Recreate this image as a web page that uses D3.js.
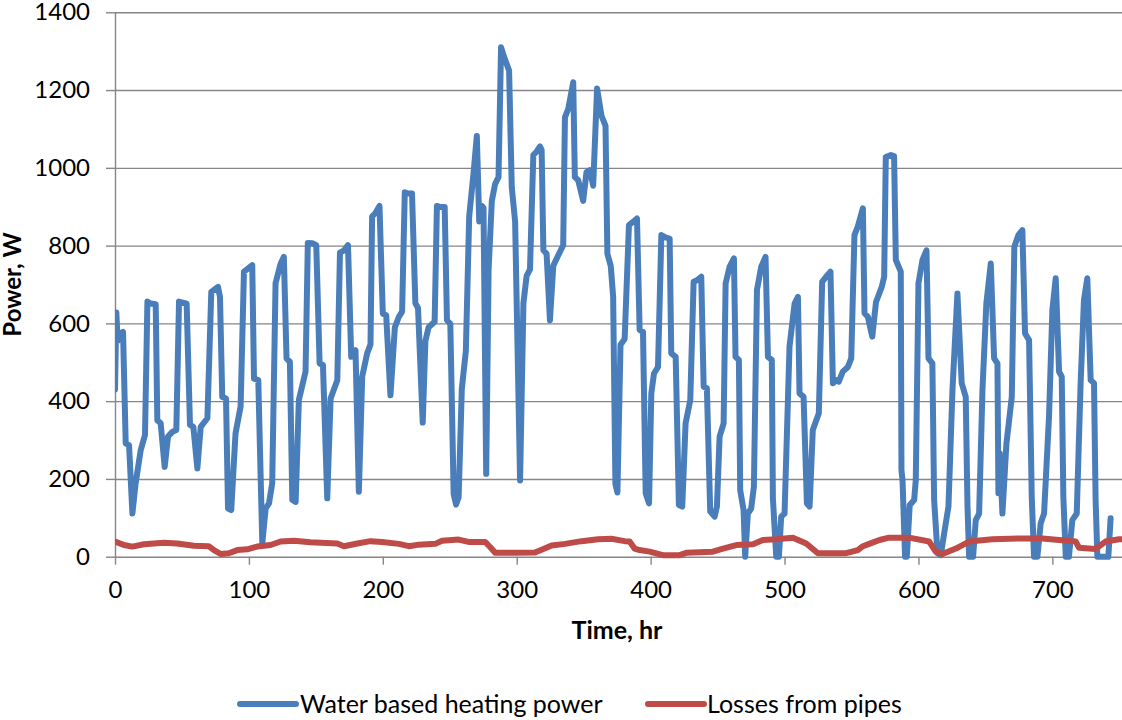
<!DOCTYPE html>
<html>
<head>
<meta charset="utf-8">
<script src="https://cdn.jsdelivr.net/npm/d3@7"></script>
<style>
  body { margin: 0; background: #fff; }
  svg text { font-family: Lato, "Open Sans", "Liberation Sans", sans-serif; fill: #000; }
</style>
</head>
<body>
<svg id="chart" width="1122" height="720"></svg>
<script>
// Hourly heating power (W) — hour stamps and values
const heatHours = [
  0, 1, 2, 3, 6, 8, 10.5, 13, 15.4, 19.2, 22.4, 24.2, 26.6, 30.4, 31.6, 34.1, 37.1, 39.6, 42.8, 45.8,
  47.8, 53.5, 56, 58.5, 61.5, 64, 69, 71.9, 76.9, 78.4, 80.1, 82.9, 84.4, 86.8, 90, 93.8, 96.3, 99.3,
  102.5, 103.8, 107, 110, 112.5, 115, 117.4, 119.9, 123.7, 126.1, 128.1, 130.6, 132.4, 134.9, 137.3,
  142.3, 144, 147.3, 150.3, 152.8, 155.3, 158.5, 161, 166, 168, 171, 174, 176.4, 179.6, 182.1, 184.6,
  188.3, 190.8, 192, 194.5, 197.5, 200, 202.5, 205.7, 209, 212, 214.4, 216.4, 218.9, 221.8, 224.3,
  226.3, 229.8, 231.8, 234.2, 238.7, 240.4, 242.9, 246.2, 247.9, 250.4, 252.9, 254.7, 256.6, 259, 262,
  264.5, 267.7, 270.2, 272, 274, 275.2, 277.2, 279, 281.4, 283.9, 286.4, 288.3, 290.8, 294.3, 296.3,
  298.8, 302.5, 305, 307.4, 309.9, 312.4, 314.9, 317.4, 318.6, 319.9, 322.3, 324.8, 327.3, 331, 334.7,
  336, 338.5, 342.2, 343.4, 345.9, 349.6, 352.1, 354.6, 357.1, 360, 363.3, 366.3, 367.7, 370.2, 372,
  373.7, 375.2, 377.5, 380.6, 383.8, 386.8, 389.8, 391.8, 394.3, 396.3, 398.8, 400.5, 402.5, 405.5,
  408, 411, 414.2, 415.4, 418.7, 421.1, 423.6, 426.1, 429.6, 432.1, 434.6, 437.8, 439.6, 442, 444.5,
  447.8, 449.5, 451.5, 454.5, 456, 459, 462.2, 463.4, 465.9, 466.9, 469.4, 470.6, 472.6, 475.1, 477.1,
  479.4, 482.6, 485.8, 487.6, 490.5, 491.3, 493.8, 495.8, 497.5, 500, 503.7, 507.5, 510, 511.2, 514.2,
  516.7, 518.7, 521.1, 525.6, 528.1, 531.1, 534.3, 536.1, 538.6, 540.5, 543.5, 547.3, 549.8, 552.2,
  554.7, 558.5, 559.7, 562.2, 565.5, 568.3, 572.6, 574.4, 575.6, 579.4, 581.8, 583.1, 586.8, 587.3,
  588.1, 590, 591.3, 593.5, 596.8, 598, 600, 603, 606, 607.5, 610.4, 611.7, 614.2, 616.7, 619.2, 622.4,
  625.4, 629.1, 632.3, 635.3, 636.6, 637.8, 640.8, 642.8, 645.3, 647.8, 650.7, 654, 656.5, 659, 659.7,
  660.7, 662.7, 665.7, 669.7, 671.6, 674.6, 677.6, 679.6, 682.6, 684.6, 686.3, 688.8, 691.3, 693.8,
  697.5, 700, 702.5, 705, 707, 708.2, 710, 712.4, 714.9, 718.2, 721.1, 723.6, 726.1, 728.6, 731.1,
  732.3, 733.6, 741.8, 743.5
];
const heatPower = [
  430, 628, 555, 572, 578, 291, 287, 111, 189, 274, 313, 656, 651, 649, 351, 343, 231, 309, 321, 326,
  656, 651, 339, 334, 227, 334, 356, 681, 694, 668, 411, 407, 124, 120, 317, 386, 733, 741,
  750, 458, 454, 34, 124, 137, 189, 703, 754, 771, 510, 501, 146, 141, 403,
  476, 807, 806, 801, 497, 493, 150, 407, 454, 782, 788, 801, 514, 531, 167, 463,
  523, 546, 875, 884, 902, 625, 621, 415, 590, 617, 630, 937, 934, 934, 652,
  639, 345, 555, 590, 604, 902, 899, 899, 608, 599, 161, 134, 152, 432, 529,
  875, 985, 1082, 862, 902, 897, 213, 739, 915, 959, 976, 1310, 1283, 1250, 950,
  862, 196, 652, 722, 739, 1033, 1042, 1055, 1046, 788, 779, 608, 748, 775, 801,
  1130, 1152, 1220, 976, 968, 915, 989, 994, 954, 1204, 1134, 1108, 779, 748, 669,
  187, 165, 545, 560, 853, 861, 870, 583, 578, 163, 137, 420, 471, 488,
  827, 821, 818, 523, 514, 133, 129, 343, 403, 707, 711, 720, 437, 433, 116,
  103, 129, 309, 343, 703, 746, 767, 514, 506, 171, 120, 0, 111, 124, 180,
  686, 746, 771, 514, 506, 150, 0, 0, 103, 111, 540, 651, 668, 420, 411,
  137, 129, 326, 369, 707, 720, 733, 446, 454, 450, 476, 488, 510, 827,
  849, 896, 626, 617, 566, 655, 694, 720, 1028, 1033, 1030, 763, 733, 223,
  197, 0, 0, 133, 146, 197, 703, 763, 788, 510, 497, 146, 9, 4, 60, 129,
  429, 677, 446, 411, 133, 0, 0, 94, 111, 429, 651, 754, 510, 497, 163,
  266, 111, 291, 411, 797, 827, 840, 574, 557, 154, 0, 0, 86, 111,
  360, 634, 716, 476, 463, 154, 0, 0, 94, 111, 446, 660, 716, 454, 446,
  146, 0, 0, 99
];

// Heat losses from the pipe network (W)
const lossHours = [
  0, 6.7, 13, 21.6, 36.6, 46.5, 59, 70, 73.9, 78.9, 85, 91.3, 98.8, 106.2, 116.2, 123.7, 133.6, 146,
  166, 171, 181, 190.8, 199.5, 212, 219.4, 226.8, 239.2, 244.2, 256.6, 264, 276.4, 280.1, 283.9, 298.8,
  313.6, 318.6, 326, 336, 348.4, 360.8, 370.7, 380.6, 384.3, 388, 391.8, 399.3, 409.2, 421.6, 426.6,
  446.5, 454, 463.9, 476.4, 483.8, 493.8, 506.2, 516.2, 524.9, 546, 554.7, 558.5, 563.2, 570.9, 578.1,
  593, 608, 612.9, 617.9, 627.9, 637.8, 655.2, 675.1, 692.5, 705, 717.4, 719.9, 732.3, 739.7, 749.8, 752
];
const lossPower = [
  39, 30, 26, 32, 36, 34, 28, 27, 17, 7, 9, 17, 19, 26, 30, 39, 41, 37,
  34, 27, 34, 40, 38, 33, 27, 31, 33, 41, 44, 38, 38, 25, 10, 10,
  11, 18, 29, 33, 40, 45, 46, 40, 39, 21, 17, 13, 4, 4, 10,
  13, 21, 30, 32, 43, 45, 49, 34, 9, 9, 17, 27, 33, 43, 49,
  49, 39, 13, 7, 21, 39, 45, 47, 47, 43, 39, 23, 20, 39, 45, 45
];

const xTicks = [0, 100, 200, 300, 400, 500, 600, 700];
const yTicks = [0, 200, 400, 600, 800, 1000, 1200, 1400];
const seriesNames = ["Water based heating power", "Losses from pipes"];
const seriesColors = ["#4A7EBB", "#BE4B48"];

const width = 1122, height = 720;
const plot = { left: 115, right: 1122, top: 12.3, bottom: 556.7 };
const axisColor = "#868686";

const svg = d3.select("#chart");
svg.append("rect").attr("width", width).attr("height", height).attr("fill", "#fff");

const x = d3.scaleLinear().domain([0, 752]).range([plot.left, plot.right]);
const y = d3.scaleLinear().domain([0, 1400]).range([plot.bottom, plot.top]);

// horizontal gridlines
svg.append("g")
  .attr("transform", `translate(${plot.left},0)`)
  .call(d3.axisLeft(y).tickValues(yTicks.filter(v => v > 0)).tickSize(-(plot.right - plot.left)).tickFormat(""))
  .call(g => g.select(".domain").remove())
  .call(g => g.selectAll("line").attr("stroke", axisColor).attr("stroke-width", 1.4));

// y axis
const yAxis = svg.append("g")
  .attr("transform", `translate(${plot.left},0)`)
  .call(d3.axisLeft(y).tickValues(yTicks).tickFormat(d3.format("d")).tickSize(9).tickPadding(16).tickSizeOuter(0));

// x axis
const xAxis = svg.append("g")
  .attr("transform", `translate(0,${plot.bottom})`)
  .call(d3.axisBottom(x).tickValues(xTicks).tickFormat(d3.format("d")).tickSize(8).tickPadding(16.5).tickSizeOuter(0));

[yAxis, xAxis].forEach(g => {
  g.select(".domain").attr("stroke", axisColor).attr("stroke-width", 1.4);
  g.selectAll(".tick line").attr("stroke", axisColor).attr("stroke-width", 1.4);
  g.selectAll(".tick text").attr("font-size", 24).attr("font-family", "Lato, sans-serif").attr("fill", "#000");
});

// series
svg.append("clipPath").attr("id", "plotClip")
  .append("rect").attr("x", plot.left).attr("y", 0).attr("width", plot.right - plot.left).attr("height", plot.bottom + 10);

const line = d3.line().x(d => x(d[0])).y(d => y(d[1]));
const heatData = heatHours.map((h, i) => [h, heatPower[i]]);
const lossData = lossHours.map((h, i) => [h, lossPower[i]]);

const seriesG = svg.append("g").attr("clip-path", "url(#plotClip)");
[heatData, lossData].forEach((data, i) => {
  seriesG.append("path")
    .datum(data)
    .attr("d", line)
    .attr("fill", "none")
    .attr("stroke", seriesColors[i])
    .attr("stroke-width", 6)
    .attr("stroke-linejoin", "round")
    .attr("stroke-linecap", "round");
});

// axis titles
svg.append("text")
  .attr("x", 617).attr("y", 639)
  .attr("text-anchor", "middle")
  .attr("font-size", 25).attr("font-weight", "bold")
  .text("Time, hr");

svg.append("text")
  .attr("transform", `translate(21,${(plot.top + plot.bottom) / 2}) rotate(-90)`)
  .attr("text-anchor", "middle")
  .attr("font-size", 24).attr("font-weight", "bold")
  .text("Power, W");

// legend
const legendItems = [
  { x1: 240, x2: 296, tx: 300 },
  { x1: 648, x2: 704, tx: 707 }
];
legendItems.forEach((item, i) => {
  svg.append("line")
    .attr("x1", item.x1).attr("x2", item.x2)
    .attr("y1", 704).attr("y2", 704)
    .attr("stroke", seriesColors[i]).attr("stroke-width", 6)
    .attr("stroke-linecap", "round");
  svg.append("text")
    .attr("x", item.tx).attr("y", 712.5)
    .attr("font-size", 25)
    .text(seriesNames[i]);
});
</script>
</body>
</html>
